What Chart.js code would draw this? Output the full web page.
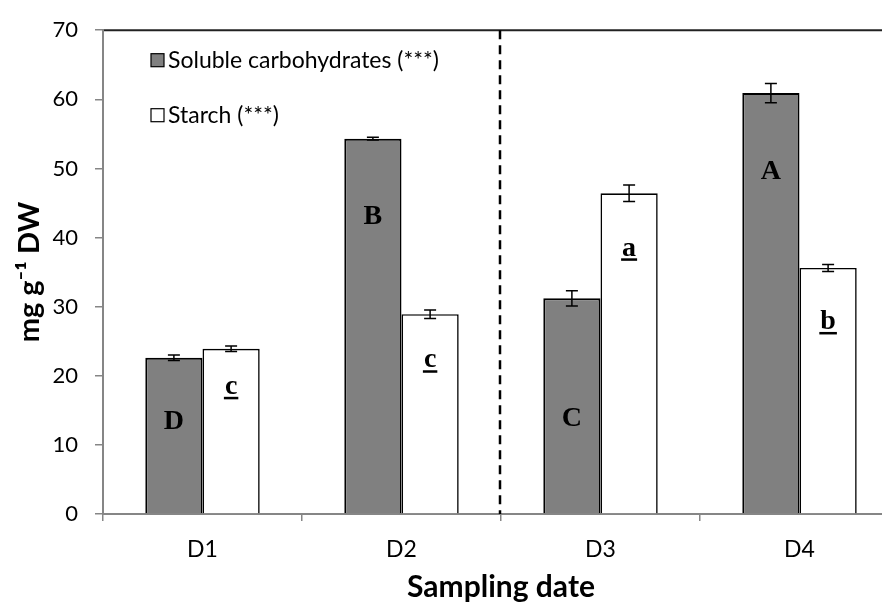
<!DOCTYPE html>
<html>
<head>
<meta charset="utf-8">
<script src="https://cdn.jsdelivr.net/npm/chart.js@4"></script>
<style>
body { margin: 0; background: #fff; overflow: hidden; }
#wrap { width: 899px; height: 602px; }
</style>
</head>
<body>
<div id="wrap"><canvas id="carbChart"></canvas></div>
<script>
const dates = ['D1', 'D2', 'D3', 'D4'];
const solubleValues = [22.6, 54.3, 31.2, 60.9];
const solubleErrors = [0.4, 0.2, 1.1, 1.4];
const starchValues = [23.9, 28.9, 46.4, 35.6];
const starchErrors = [0.4, 0.6, 1.2, 0.5];
const solubleLetters = ['D', 'B', 'C', 'A'];
const starchLetters = ['c', 'c', 'a', 'b'];
const yMin = 0, yMax = 70, yStep = 10;

const sansFont = 'Lato, "Open Sans", sans-serif';

// error bars on top of every bar
const errorBars = {
    id: 'errorBars',
    afterDatasetsDraw(chart) {
        const ctx = chart.ctx;
        const yScale = chart.scales.y;
        ctx.save();
        ctx.strokeStyle = '#000';
        ctx.lineWidth = 1.5;
        chart.data.datasets.forEach((ds, i) => {
            chart.getDatasetMeta(i).data.forEach((bar, j) => {
                const v = ds.data[j], e = ds.errors[j];
                const yTop = yScale.getPixelForValue(v + e);
                const yBot = yScale.getPixelForValue(v - e);
                const x = bar.x;
                ctx.beginPath();
                ctx.moveTo(x, yTop); ctx.lineTo(x, yBot);
                ctx.moveTo(x - 6, yTop); ctx.lineTo(x + 6, yTop);
                ctx.moveTo(x - 6, yBot); ctx.lineTo(x + 6, yBot);
                ctx.stroke();
            });
        });
        ctx.restore();
    }
};

// significance letters inside the bars
const barLetters = {
    id: 'barLetters',
    afterDatasetsDraw(chart, args, opts) {
        const ctx = chart.ctx;
        ctx.save();
        ctx.font = 'bold 28px "Liberation Serif", "Times New Roman", serif';
        ctx.fillStyle = '#000';
        ctx.textAlign = 'center';
        ctx.textBaseline = 'middle';
        chart.data.datasets.forEach((ds, i) => {
            chart.getDatasetMeta(i).data.forEach((bar, j) => {
                const txt = ds.letters[j];
                const y = bar.y + opts.offsets[i][j];
                ctx.fillText(txt, bar.x, y);
                if (ds.underline) {
                    const w = ctx.measureText(txt).width;
                    ctx.fillRect(bar.x - w / 2 - 1, y + 10, w + 2, 2.5);
                }
            });
        });
        ctx.restore();
    }
};

// legend inside plot, dashed separator, top border
const extras = {
    id: 'extras',
    afterDraw(chart) {
        const ctx = chart.ctx;
        const area = chart.chartArea;
        const xScale = chart.scales.x;
        ctx.save();

        // top border line
        ctx.strokeStyle = '#222';
        ctx.lineWidth = 2;
        ctx.beginPath();
        ctx.moveTo(area.left + 1, area.top);
        ctx.lineTo(area.right, area.top);
        ctx.stroke();

        // dashed line between D2 and D3
        const xd = (xScale.getPixelForValue(1) + xScale.getPixelForValue(2)) / 2 - 1;
        ctx.setLineDash([9, 6]);
        ctx.lineWidth = 2.5;
        ctx.strokeStyle = '#000';
        ctx.beginPath();
        ctx.moveTo(xd, area.top);
        ctx.lineTo(xd, area.bottom);
        ctx.stroke();
        ctx.setLineDash([]);

        // legend
        ctx.font = '23px ' + sansFont;
        ctx.textBaseline = 'middle';
        ctx.textAlign = 'left';
        chart.data.datasets.forEach((ds, i) => {
            const lx = area.left + 48;
            const ly = area.top + 30 + i * 55;
            ctx.fillStyle = ds.backgroundColor;
            ctx.fillRect(lx, ly - 6.5, 13, 13);
            ctx.lineWidth = 1.2;
            ctx.strokeStyle = '#000';
            ctx.strokeRect(lx, ly - 6.5, 13, 13);
            ctx.fillStyle = '#000';
            ctx.fillText(ds.label, lx + 17, ly);
        });
        ctx.restore();
    }
};

const ctx = document.getElementById('carbChart').getContext('2d');
new Chart(ctx, {
    type: 'bar',
    data: {
        labels: dates,
        datasets: [{
            label: 'Soluble carbohydrates (***)',
            data: solubleValues,
            errors: solubleErrors,
            letters: solubleLetters,
            underline: false,
            backgroundColor: '#808080',
            borderColor: '#000',
            borderWidth: 2,
            categoryPercentage: 0.575,
            barPercentage: 1.0
        }, {
            label: 'Starch (***)',
            data: starchValues,
            errors: starchErrors,
            letters: starchLetters,
            underline: true,
            backgroundColor: '#ffffff',
            borderColor: '#000',
            borderWidth: 1.6,
            categoryPercentage: 0.575,
            barPercentage: 1.0
        }]
    },
    options: {
        responsive: true,
        maintainAspectRatio: false,
        animation: false,
        layout: { padding: { top: 24, left: 0, right: 0, bottom: 0 } },
        plugins: {
            legend: { display: false },
            tooltip: { enabled: false },
            barLetters: { offsets: [[64, 78, 120, 79], [38, 46, 55, 54]] }
        },
        scales: {
            x: {
                afterFit: scale => { scale.height = 88; },
                border: { color: '#868686', width: 2 },
                grid: { offset: true, drawOnChartArea: false, drawTicks: true, tickLength: 7, color: '#868686', lineWidth: 1.5 },
                ticks: { color: '#000', font: { family: sansFont, size: 23 }, padding: 15 },
                title: {
                    display: true,
                    text: 'Sampling date',
                    color: '#000',
                    font: { family: sansFont, size: 30, weight: 'bold' },
                    padding: { top: 0, bottom: -3 }
                }
            },
            y: {
                min: yMin,
                max: yMax,
                afterFit: scale => { scale.width = 103; },
                border: { color: '#868686', width: 2 },
                grid: { drawOnChartArea: false, drawTicks: true, tickLength: 8, color: '#868686', lineWidth: 1.5 },
                ticks: { stepSize: yStep, color: '#000', font: { family: sansFont, size: 22 }, padding: 17 },
                title: {
                    display: true,
                    text: 'mg g\u207B\u00B9 DW',
                    color: '#000',
                    font: { family: sansFont, size: 29, weight: 'bold' },
                    padding: { top: 12, bottom: 0 }
                }
            }
        }
    },
    plugins: [errorBars, barLetters, extras]
});
</script>
</body>
</html>
